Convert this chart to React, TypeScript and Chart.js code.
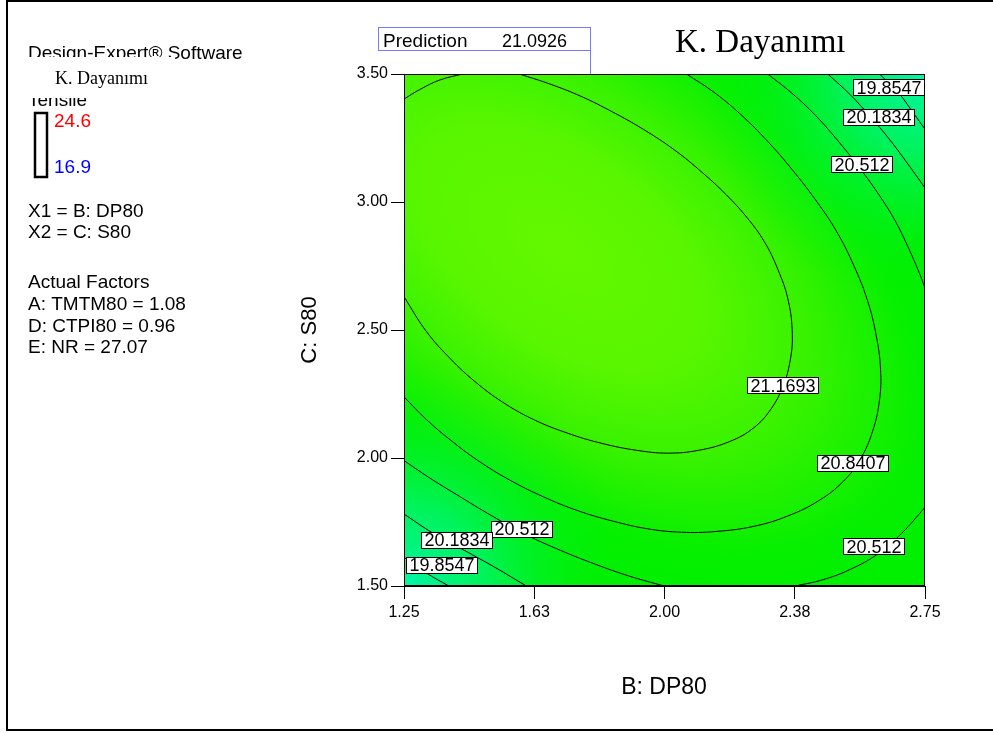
import React, { useEffect, useRef } from 'react';
import { Chart, registerables } from 'chart.js';

Chart.register(...registerables);

type Pt = { x: number; y: number };

// Axis ticks
const xTickValues = [1.25, 1.625, 2.0, 2.375, 2.75];
const xTickLabels = ['1.25', '1.63', '2.00', '2.38', '2.75'];
const yTickValues = [1.5, 2.0, 2.5, 3.0, 3.5];
const yTickLabels = ['1.50', '2.00', '2.50', '3.00', '3.50'];

// Contour levels of K. Dayanımı
const level19_8547 = 19.8547;
const level20_1834 = 20.1834;
const level20_512 = 20.512;
const level20_8407 = 20.8407;
const level21_1693 = 21.1693;

// Contour segments (B: DP80, C: S80), clipped at the design space edges
const c21_1693_topLeft: Pt[] = [
  { x: 1.25, y: 3.402 }, { x: 1.295, y: 3.439 }, { x: 1.354, y: 3.477 }, { x: 1.419, y: 3.5 },
];
const c21_1693_main: Pt[] = [
  { x: 1.582, y: 3.5 }, { x: 1.672, y: 3.46 }, { x: 1.761, y: 3.412 }, { x: 1.85, y: 3.352 },
  { x: 1.939, y: 3.284 }, { x: 2.029, y: 3.203 }, { x: 2.108, y: 3.116 }, { x: 2.178, y: 3.028 },
  { x: 2.237, y: 2.94 }, { x: 2.287, y: 2.846 }, { x: 2.326, y: 2.738 }, { x: 2.356, y: 2.617 },
  { x: 2.368, y: 2.482 }, { x: 2.361, y: 2.374 }, { x: 2.341, y: 2.28 }, { x: 2.307, y: 2.192 },
  { x: 2.257, y: 2.118 }, { x: 2.187, y: 2.064 }, { x: 2.098, y: 2.03 }, { x: 2.009, y: 2.019 },
  { x: 1.92, y: 2.03 }, { x: 1.82, y: 2.057 }, { x: 1.721, y: 2.097 }, { x: 1.622, y: 2.151 },
  { x: 1.533, y: 2.219 }, { x: 1.453, y: 2.3 }, { x: 1.384, y: 2.387 }, { x: 1.314, y: 2.495 },
  { x: 1.25, y: 2.63 },
];
const c20_8407: Pt[] = [
  { x: 2.063, y: 3.5 }, { x: 2.138, y: 3.433 }, { x: 2.217, y: 3.345 }, { x: 2.297, y: 3.237 },
  { x: 2.366, y: 3.129 }, { x: 2.435, y: 3.008 }, { x: 2.495, y: 2.886 }, { x: 2.545, y: 2.752 },
  { x: 2.584, y: 2.617 }, { x: 2.609, y: 2.482 }, { x: 2.622, y: 2.347 }, { x: 2.619, y: 2.226 },
  { x: 2.599, y: 2.104 }, { x: 2.564, y: 1.996 }, { x: 2.515, y: 1.909 }, { x: 2.445, y: 1.834 },
  { x: 2.356, y: 1.774 }, { x: 2.257, y: 1.733 }, { x: 2.148, y: 1.713 }, { x: 2.049, y: 1.71 },
  { x: 1.949, y: 1.724 }, { x: 1.85, y: 1.754 }, { x: 1.751, y: 1.794 }, { x: 1.652, y: 1.848 },
  { x: 1.553, y: 1.915 }, { x: 1.463, y: 1.99 }, { x: 1.384, y: 2.07 }, { x: 1.314, y: 2.151 },
  { x: 1.25, y: 2.239 },
];
const c20_512_upper: Pt[] = [
  { x: 2.297, y: 3.5 }, { x: 2.366, y: 3.426 }, { x: 2.435, y: 3.338 }, { x: 2.505, y: 3.23 },
  { x: 2.564, y: 3.129 }, { x: 2.614, y: 3.035 }, { x: 2.664, y: 2.927 }, { x: 2.703, y: 2.819 },
  { x: 2.733, y: 2.725 }, { x: 2.75, y: 2.664 },
];
const c20_512_lowerLeft: Pt[] = [
  { x: 1.25, y: 1.99 }, { x: 1.324, y: 1.922 }, { x: 1.404, y: 1.855 }, { x: 1.503, y: 1.774 },
  { x: 1.602, y: 1.7 }, { x: 1.701, y: 1.639 }, { x: 1.801, y: 1.585 }, { x: 1.9, y: 1.538 },
  { x: 1.999, y: 1.5 },
];
const c20_512_lowerRight: Pt[] = [
  { x: 2.376, y: 1.5 }, { x: 2.455, y: 1.524 }, { x: 2.535, y: 1.565 }, { x: 2.614, y: 1.625 },
  { x: 2.683, y: 1.706 }, { x: 2.75, y: 1.807 },
];
const c20_1834_upper: Pt[] = [
  { x: 2.47, y: 3.5 }, { x: 2.535, y: 3.419 }, { x: 2.594, y: 3.331 }, { x: 2.644, y: 3.251 },
  { x: 2.693, y: 3.163 }, { x: 2.75, y: 3.055 },
];
const c20_1834_lower: Pt[] = [
  { x: 1.25, y: 1.781 }, { x: 1.334, y: 1.706 }, { x: 1.424, y: 1.639 }, { x: 1.513, y: 1.572 },
  { x: 1.602, y: 1.5 },
];
const c19_8547_upper: Pt[] = [
  { x: 2.619, y: 3.5 }, { x: 2.674, y: 3.426 }, { x: 2.718, y: 3.345 }, { x: 2.75, y: 3.284 },
];
const c19_8547_lower: Pt[] = [
  { x: 1.25, y: 1.612 }, { x: 1.314, y: 1.551 }, { x: 1.379, y: 1.5 },
];

const contourSegments: { level: number; points: Pt[] }[] = [
  { level: level21_1693, points: c21_1693_topLeft },
  { level: level21_1693, points: c21_1693_main },
  { level: level20_8407, points: c20_8407 },
  { level: level20_512, points: c20_512_upper },
  { level: level20_512, points: c20_512_lowerLeft },
  { level: level20_512, points: c20_512_lowerRight },
  { level: level20_1834, points: c20_1834_upper },
  { level: level20_1834, points: c20_1834_lower },
  { level: level19_8547, points: c19_8547_upper },
  { level: level19_8547, points: c19_8547_lower },
];

// Where each contour value is printed
const contourLabels: { level: number; x: number; y: number }[] = [
  { level: level19_8547, x: 2.646, y: 3.449 },
  { level: level20_1834, x: 2.615, y: 3.332 },
  { level: level20_512, x: 2.566, y: 3.148 },
  { level: level21_1693, x: 2.341, y: 2.285 },
  { level: level20_8407, x: 2.54, y: 1.981 },
  { level: level20_512, x: 2.603, y: 1.656 },
  { level: level20_512, x: 1.587, y: 1.723 },
  { level: level20_1834, x: 1.4, y: 1.68 },
  { level: level19_8547, x: 1.357, y: 1.582 },
];

// Prediction flag
const predictionPoint: Pt = { x: 1.785, y: 3.5 };
const predictionValue = '21.0926';

// Side panel
const responseName = 'K. Dayanımı';
const responseHigh = '24.6';
const responseLow = '16.9';
const factorLines = ['X1 = B: DP80', 'X2 = C: S80'];
const actualFactorLines = ['Actual Factors', 'A: TMTM80 = 1.08', 'D: CTPI80 = 0.96', 'E: NR = 27.07'];

const SANS = "Arial, 'Liberation Sans', sans-serif";
const SERIF = "'Times New Roman', 'Liberation Serif', serif";

const fieldPlugin = {
  id: 'responseField',
  beforeDatasetsDraw(chart: any) {
    const { ctx, chartArea: a, scales } = chart;
    ctx.save();
    ctx.beginPath();
    ctx.rect(a.left, a.top, a.right - a.left, a.bottom - a.top);
    ctx.clip();
    ctx.fillStyle = '#00F000';
    ctx.fillRect(a.left, a.top, a.right - a.left, a.bottom - a.top);

    // bright ridge around the optimum
    const cx = scales.x.getPixelForValue(1.7);
    const cy = scales.y.getPixelForValue(2.82);
    ctx.save();
    ctx.translate(cx, cy);
    ctx.rotate((36 * Math.PI) / 180);
    ctx.scale(1, 0.56);
    const g = ctx.createRadialGradient(0, 0, 0, 0, 0, 480);
    g.addColorStop(0, '#64F800');
    g.addColorStop(0.35, '#58F600');
    g.addColorStop(0.6, '#36F200');
    g.addColorStop(0.85, '#06F000');
    g.addColorStop(1, '#00F000');
    ctx.fillStyle = g;
    ctx.fillRect(-1200, -1200, 2400, 2400);
    ctx.restore();

    // cooler corners
    const corners = [
      [a.right, a.top, 230],
      [a.left, a.bottom, 230],
    ];
    for (const [px, py, r] of corners) {
      const cg = ctx.createRadialGradient(px, py, 0, px, py, r);
      cg.addColorStop(0, 'rgba(0,246,170,1)');
      cg.addColorStop(0.35, 'rgba(0,244,120,0.75)');
      cg.addColorStop(0.7, 'rgba(0,241,50,0.3)');
      cg.addColorStop(1, 'rgba(0,240,0,0)');
      ctx.fillStyle = cg;
      ctx.fillRect(a.left, a.top, a.right - a.left, a.bottom - a.top);
    }
    ctx.restore();
  },
  afterDatasetsDraw(chart: any) {
    const { ctx, chartArea: a, scales } = chart;
    ctx.save();
    // contour value tags
    ctx.font = `18px ${SANS}`;
    ctx.textAlign = 'center';
    ctx.textBaseline = 'middle';
    for (const lab of contourLabels) {
      const px = scales.x.getPixelForValue(lab.x);
      const py = scales.y.getPixelForValue(lab.y);
      const text = String(lab.level);
      const w = Math.round(ctx.measureText(text).width + 6);
      const h = 16;
      const bx = Math.round(px - w / 2) + 0.5;
      const by = Math.round(py - h / 2) + 0.5;
      ctx.fillStyle = '#fff';
      ctx.fillRect(bx, by, w, h);
      ctx.strokeStyle = '#000';
      ctx.lineWidth = 1;
      ctx.strokeRect(bx, by, w, h);
      ctx.fillStyle = '#000';
      ctx.fillText(text, bx + w / 2, py + 1.5);
    }
    // plot frame
    ctx.strokeStyle = '#000';
    ctx.lineWidth = 1;
    ctx.strokeRect(a.left + 0.5, a.top + 0.5, a.right - a.left - 1, a.bottom - a.top - 1);
    ctx.restore();
  },
  afterDraw(chart: any) {
    const { ctx, scales } = chart;
    ctx.save();

    // outer frame
    ctx.strokeStyle = '#000';
    ctx.lineWidth = 2;
    ctx.strokeRect(7, 1, 1010, 729);

    // prediction flag
    const fx = Math.round(scales.x.getPixelForValue(predictionPoint.x)) + 0.5;
    const fy = scales.y.getPixelForValue(predictionPoint.y);
    ctx.strokeStyle = '#7878FF';
    ctx.lineWidth = 1;
    ctx.strokeRect(378.5, 27.5, fx - 378.5, 23);
    ctx.beginPath();
    ctx.moveTo(fx, 50.5);
    ctx.lineTo(fx, fy);
    ctx.stroke();
    ctx.fillStyle = '#000';
    ctx.textBaseline = 'middle';
    ctx.textAlign = 'left';
    ctx.font = `19px ${SANS}`;
    ctx.fillText('Prediction', 383, 42);
    ctx.font = `18px ${SANS}`;
    ctx.fillText(predictionValue, 502, 42);

    // chart title
    ctx.font = `33px ${SERIF}`;
    ctx.fillText(responseName, 675, 43);

    // axis titles
    ctx.font = `23px ${SANS}`;
    ctx.textAlign = 'center';
    ctx.fillText('B: DP80', 664, 688);
    ctx.save();
    ctx.translate(310, 330);
    ctx.rotate(-Math.PI / 2);
    ctx.font = `22px ${SANS}`;
    ctx.fillText('C: S80', 0, 0);
    ctx.restore();

    // side panel
    ctx.textAlign = 'left';
    ctx.font = `19px ${SANS}`;
    ctx.fillText('Design-Expert® Software', 28, 54);
    ctx.fillText('Tensile', 28, 101);
    ctx.fillStyle = '#fff';
    ctx.fillRect(25, 57, 150, 41);
    ctx.fillStyle = '#000';
    ctx.font = `18px ${SERIF}`;
    ctx.fillText(responseName, 55, 79);

    ctx.strokeStyle = '#000';
    ctx.lineWidth = 2.5;
    ctx.strokeRect(35, 113, 12, 64);
    ctx.font = `19px ${SANS}`;
    ctx.fillStyle = '#FF0000';
    ctx.fillText(responseHigh, 54, 122);
    ctx.fillStyle = '#0000FF';
    ctx.fillText(responseLow, 54, 168);

    ctx.fillStyle = '#000';
    factorLines.forEach((t, i) => ctx.fillText(t, 28, 212 + i * 21));
    actualFactorLines.forEach((t, i) => ctx.fillText(t, 28, 283 + i * 21.7));
    ctx.restore();
  },
};

export default function App() {
  const canvasRef = useRef<HTMLCanvasElement | null>(null);

  useEffect(() => {
    const canvas = canvasRef.current;
    if (!canvas) return;
    const datasets = contourSegments.map((seg) => ({
      label: String(seg.level),
      data: seg.points,
      showLine: true,
      borderColor: '#000',
      borderWidth: 1,
      pointRadius: 0,
      pointHoverRadius: 0,
      tension: 0.4,
      fill: false,
      clip: 0,
    }));
    const tickFont = { family: SANS, size: 16 };
    const chart = new Chart(canvas, {
      type: 'scatter',
      data: { datasets },
      plugins: [fieldPlugin],
      options: {
        animation: false,
        responsive: false,
        devicePixelRatio: 1,
        events: [],
        layout: { padding: { left: 284, right: 68, top: 74, bottom: 107 } },
        plugins: { legend: { display: false }, tooltip: { enabled: false } },
        scales: {
          x: {
            type: 'linear',
            position: 'bottom',
            min: xTickValues[0],
            max: xTickValues[xTickValues.length - 1],
            afterBuildTicks: (s: any) => {
              s.ticks = xTickValues.map((v) => ({ value: v }));
            },
            afterFit: (s: any) => {
              s.height = 40;
            },
            ticks: {
              autoSkip: false,
              maxRotation: 0,
              color: '#000',
              font: tickFont,
              padding: 4,
              callback: (v: any) => xTickLabels[xTickValues.indexOf(Number(v))] ?? '',
            },
            grid: { drawOnChartArea: false, tickLength: 13, tickColor: '#000', color: '#000' },
            border: { color: '#000' },
          },
          y: {
            type: 'linear',
            position: 'left',
            min: yTickValues[0],
            max: yTickValues[yTickValues.length - 1],
            afterBuildTicks: (s: any) => {
              s.ticks = yTickValues.map((v) => ({ value: v }));
            },
            afterFit: (s: any) => {
              s.width = 120;
            },
            ticks: {
              autoSkip: false,
              color: '#000',
              font: tickFont,
              padding: 3,
              callback: (v: any) => yTickLabels[yTickValues.indexOf(Number(v))] ?? '',
            },
            grid: { drawOnChartArea: false, tickLength: 13, tickColor: '#000', color: '#000' },
            border: { color: '#000' },
          },
        },
      } as any,
    });
    return () => chart.destroy();
  }, []);

  return (
    <div style={{ position: 'absolute', left: 0, top: 0, width: 993, height: 733, background: '#fff' }}>
      <canvas ref={canvasRef} width={993} height={733} style={{ display: 'block', width: 993, height: 733 }} />
    </div>
  );
}
